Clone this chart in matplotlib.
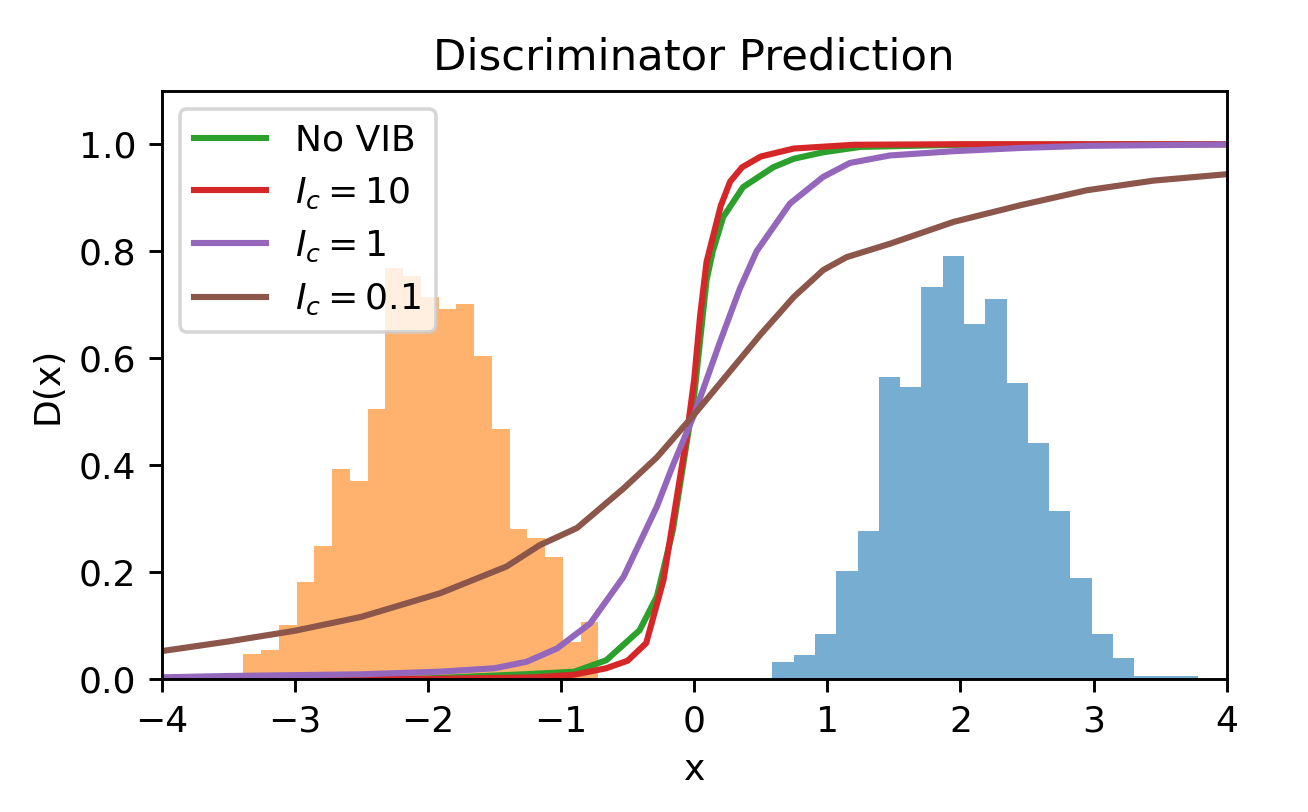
import numpy as np
import matplotlib
matplotlib.use("Agg")
import matplotlib.pyplot as plt

# ---- data ----
# histogram of fake samples (orange), density values, 20 bins
fake_edges_lo, fake_edges_hi = -3.387, -0.719
fake_density = [0.048, 0.055, 0.101, 0.183, 0.250, 0.393, 0.370, 0.506, 0.769, 0.753,
                0.715, 0.692, 0.701, 0.604, 0.468, 0.281, 0.265, 0.229, 0.070, 0.107]
# histogram of real samples (blue), density values, 20 bins
real_edges_lo, real_edges_hi = 0.588, 3.786
real_density = [0.033, 0.046, 0.085, 0.202, 0.278, 0.565, 0.547, 0.734, 0.791, 0.664,
                0.710, 0.553, 0.441, 0.315, 0.190, 0.085, 0.040, 0.006, 0.006, 0.006]

# discriminator curves
x_novib = [-4, -2, -1.25, -0.9, -0.66, -0.41, -0.28, -0.16, -0.057, 0, 0.093, 0.14,
           0.218, 0.368, 0.594, 0.75, 0.97, 1.25, 2, 4]
y_novib = [0.0, 0.002, 0.01, 0.0146, 0.036, 0.092, 0.155, 0.279, 0.441, 0.53, 0.746,
           0.80, 0.864, 0.92, 0.957, 0.973, 0.985, 0.995, 0.999, 1.0]

x_ic10 = [-4, -2, -1.2, -0.9, -0.66, -0.5, -0.36, -0.23, -0.13, -0.057, 0, 0.045,
          0.093, 0.2, 0.27, 0.36, 0.5, 0.6, 0.75, 1.2, 2, 4]
y_ic10 = [0.0, 0.001, 0.004, 0.009, 0.021, 0.035, 0.068, 0.186, 0.341, 0.453, 0.56,
          0.68, 0.78, 0.885, 0.93, 0.957, 0.977, 0.983, 0.992, 0.999, 1.0, 1.0]

x_ic1 = [-4, -3.5, -2.5, -1.91, -1.5, -1.26, -1.03, -0.78, -0.53, -0.28, -0.16, 0,
         0.193, 0.343, 0.469, 0.719, 0.969, 1.17, 1.47, 1.95, 2.45, 2.95, 4]
y_ic1 = [0.004, 0.0065, 0.0097, 0.0146, 0.021, 0.033, 0.058, 0.105, 0.192, 0.323,
         0.40, 0.495, 0.63, 0.73, 0.80, 0.889, 0.939, 0.965, 0.979, 0.987, 0.993,
         0.997, 0.9996]

x_ic01 = [-4, -3.5, -3, -2.5, -1.91, -1.41, -1.16, -0.88, -0.53, -0.28, 0, 0.25, 0.5,
          0.75, 0.97, 1.145, 1.47, 1.95, 2.45, 2.95, 3.45, 4]
y_ic01 = [0.053, 0.071, 0.091, 0.117, 0.161, 0.211, 0.251, 0.283, 0.357, 0.415, 0.495,
          0.57, 0.645, 0.715, 0.765, 0.789, 0.814, 0.855, 0.886, 0.914, 0.932, 0.944]

labels = ["No VIB", r"$I_c = 10$", r"$I_c = 1$", r"$I_c = 0.1$"]

# ---- plot ----
DPI = 260
fig = plt.figure(figsize=(1308 / DPI, 812 / DPI), dpi=DPI)
ax = fig.add_axes([0.1236, 0.1632, 0.8142, 0.7251])

fake_edges = np.linspace(fake_edges_lo, fake_edges_hi, len(fake_density) + 1)
real_edges = np.linspace(real_edges_lo, real_edges_hi, len(real_density) + 1)
ax.hist(fake_edges[:-1], bins=fake_edges, weights=fake_density, color="C1", alpha=0.6)
ax.hist(real_edges[:-1], bins=real_edges, weights=real_density, color="C0", alpha=0.6)

LW = 1.7
ax.plot(x_novib, y_novib, color="C2", lw=LW, label=labels[0])
ax.plot(x_ic10, y_ic10, color="C3", lw=LW, label=labels[1])
ax.plot(x_ic1, y_ic1, color="C4", lw=LW, label=labels[2])
ax.plot(x_ic01, y_ic01, color="C5", lw=LW, label=labels[3])

ax.set_xlim(-4, 4)
ax.set_ylim(0, 1.1)
ax.set_xlabel("x")
ax.set_ylabel("D(x)")
ax.set_title("Discriminator Prediction", fontsize=12)
ax.legend(loc="upper left")

fig.savefig("out.png", dpi=DPI)
